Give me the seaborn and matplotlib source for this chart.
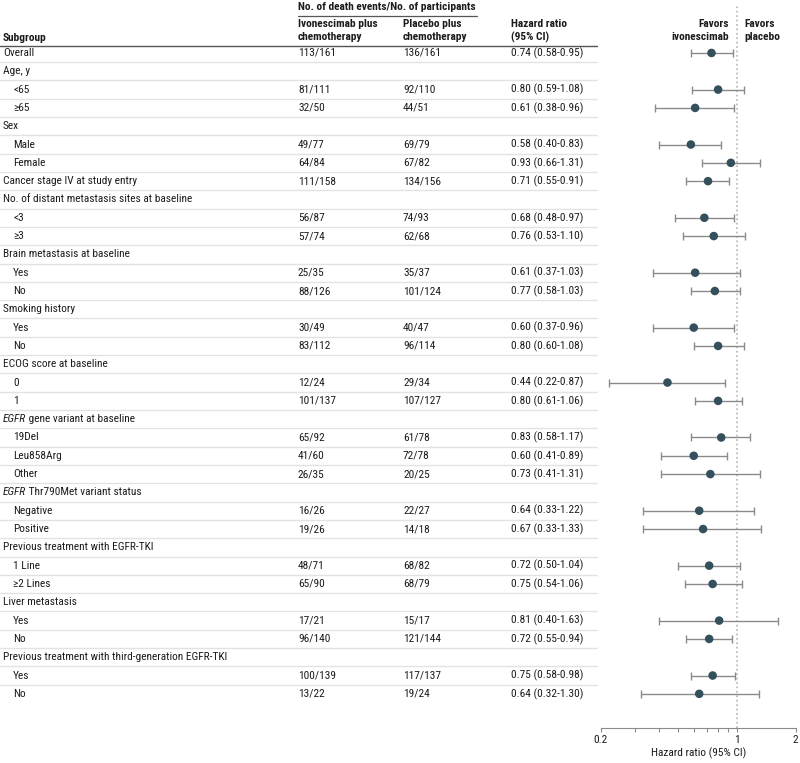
import numpy as np
import pandas as pd
import seaborn as sns
import matplotlib.pyplot as plt
import matplotlib.transforms as mtransforms
from matplotlib import font_manager as fm
from matplotlib.textpath import TextPath
from matplotlib.lines import Line2D
from matplotlib.ticker import NullFormatter

# Subgroup rows (header rows have no hazard ratio)
subgroups = [
    "Overall", "Age, y", "<65", "≥65", "Sex", "Male", "Female",
    "Cancer stage IV at study entry",
    "No. of distant metastasis sites at baseline", "<3", "≥3",
    "Brain metastasis at baseline", "Yes", "No",
    "Smoking history", "Yes", "No",
    "ECOG score at baseline", "0", "1",
    "EGFR gene variant at baseline", "19Del", "Leu858Arg", "Other",
    "EGFR Thr790Met variant status", "Negative", "Positive",
    "Previous treatment with EGFR-TKI", "1 Line", "≥2 Lines",
    "Liver metastasis", "Yes", "No",
    "Previous treatment with third-generation EGFR-TKI", "Yes", "No",
]
indented = [0, 0, 1, 1, 0, 1, 1, 0, 0, 1, 1, 0, 1, 1, 0, 1, 1, 0, 1, 1,
            0, 1, 1, 1, 0, 1, 1, 0, 1, 1, 0, 1, 1, 0, 1, 1]
ivo_events = ["113/161", "", "81/111", "32/50", "", "49/77", "64/84", "111/158",
              "", "56/87", "57/74", "", "25/35", "88/126", "", "30/49", "83/112",
              "", "12/24", "101/137", "", "65/92", "41/60", "26/35", "", "16/26",
              "19/26", "", "48/71", "65/90", "", "17/21", "96/140", "", "100/139", "13/22"]
pbo_events = ["136/161", "", "92/110", "44/51", "", "69/79", "67/82", "134/156",
              "", "74/93", "62/68", "", "35/37", "101/124", "", "40/47", "96/114",
              "", "29/34", "107/127", "", "61/78", "72/78", "20/25", "", "22/27",
              "14/18", "", "68/82", "68/79", "", "15/17", "121/144", "", "117/137", "19/24"]
nan = np.nan
hr = [0.74, nan, 0.80, 0.61, nan, 0.58, 0.93, 0.71, nan, 0.68, 0.76, nan, 0.61, 0.77,
      nan, 0.60, 0.80, nan, 0.44, 0.80, nan, 0.83, 0.60, 0.73, nan, 0.64, 0.67, nan,
      0.72, 0.75, nan, 0.81, 0.72, nan, 0.75, 0.64]
hr_lo = [0.58, nan, 0.59, 0.38, nan, 0.40, 0.66, 0.55, nan, 0.48, 0.53, nan, 0.37, 0.58,
         nan, 0.37, 0.60, nan, 0.22, 0.61, nan, 0.58, 0.41, 0.41, nan, 0.33, 0.33, nan,
         0.50, 0.54, nan, 0.40, 0.55, nan, 0.58, 0.32]
hr_hi = [0.95, nan, 1.08, 0.96, nan, 0.83, 1.31, 0.91, nan, 0.97, 1.10, nan, 1.03, 1.03,
         nan, 0.96, 1.08, nan, 0.87, 1.06, nan, 1.17, 0.89, 1.31, nan, 1.22, 1.33, nan,
         1.04, 1.06, nan, 1.63, 0.94, nan, 0.98, 1.30]

W, H = 800, 763
txt = "#1c1c1c"

sns.set_style("white")

# the reference uses a narrow sans; pick the installed one closest to it
sample = "Previous treatment with third-generation EGFR-TKI"
names = {"DejaVu Sans", "DejaVu Sans Condensed", "Liberation Sans", "Liberation Sans Narrow",
         "Noto Sans", "Noto Sans Condensed", "Noto Sans SemiCondensed", "Roboto",
         "Roboto Condensed", "Open Sans", "Open Sans Condensed", "Open Sans SemiCondensed",
         "Lato", "Inter"}


def measure(fname):
    p = fm.FontProperties(fname=fname)
    w = TextPath((0, 0), sample, size=10, prop=p).get_extents().width
    h = TextPath((0, 0), "H", size=10, prop=p).get_extents().height
    return w, h


best = None
for f in sorted(fm.fontManager.ttflist, key=lambda f: f.fname):
    if f.name not in names or f.style != "normal" or f.weight not in (400, "normal", "regular"):
        continue
    try:
        w, h = measure(f.fname)
    except Exception:
        continue
    score = abs(w / h - 26)
    if best is None or score < best[0]:
        best = (score, f.name, f.stretch)
_, fam, stretch = best
# measure the file that will really be used for drawing
w10, h10 = measure(fm.findfont(fm.FontProperties(family=fam, stretch=stretch)))
fs_w = 210 / (w10 / 10 * 100 / 72)   # size giving the reference text width
fs_h = 8 / (h10 / 10 * 100 / 72)     # size giving the reference cap height
FS = 1.04 * min(fs_h, 0.5 * (fs_w + fs_h))

plt.rcParams['font.family'] = [fam, 'DejaVu Sans']
plt.rcParams['font.stretch'] = stretch

df = pd.DataFrame({"row": np.arange(len(subgroups)), "hr": hr, "lo": hr_lo, "hi": hr_hi})
pts = df.dropna()

fig = plt.figure(figsize=(W / 100, H / 100), dpi=100)
ax = fig.add_axes([600.7 / W, 1 - 727.7 / H, 195 / W, (727.7 - 5) / H])

ax.axvline(1, color="#b5b5b5", ls=":", lw=1.2, zorder=1)
ax.errorbar(pts["hr"], pts["row"], xerr=[pts["hr"] - pts["lo"], pts["hi"] - pts["hr"]],
            fmt="none", ecolor="#8a8a8a", elinewidth=1, capsize=2.9, capthick=1, zorder=2)
sns.scatterplot(data=pts, x="hr", y="row", ax=ax, s=38, color="#34505c",
                edgecolor="none", zorder=3)

ax.set_xscale("log")
ax.set_xlim(0.2, 2)
ax.set_ylim(36.85, -2.62)
ax.set_xticks([0.2, 1, 2], ["0.2", "1", "2"])
ax.set_xticks([0.3, 0.4, 0.5, 0.6, 0.7, 0.8, 0.9], minor=True)
ax.xaxis.set_minor_formatter(NullFormatter())
ax.tick_params(axis="x", which="both", direction="out", length=3, width=0.8,
               color="#8a8a8a", labelsize=FS, labelcolor=txt, pad=2.5, bottom=True)
ax.set_yticks([])
ax.set_ylabel("")
ax.set_xlabel("Hazard ratio (95% CI)", fontsize=FS, color=txt, labelpad=1.5)
for s in ["top", "left", "right"]:
    ax.spines[s].set_visible(False)
ax.spines["bottom"].set_color("#8a8a8a")
ax.spines["bottom"].set_linewidth(0.8)
ax.patch.set_alpha(0)

# table, x in figure fraction, y in row units
tr = mtransforms.blended_transform_factory(fig.transFigure, ax.transData)
renderer = fig.canvas.get_renderer()
for i, lab in enumerate(subgroups):
    x0 = 13 if indented[i] else 3
    if lab.startswith("EGFR "):
        t = fig.text(x0 / W, i, "EGFR", transform=tr, ha="left", va="center", fontsize=FS,
                     color=txt, style="italic")
        x1 = t.get_window_extent(renderer).x1
        fig.text(x1 / W, i, lab[4:], transform=tr, ha="left", va="center", fontsize=FS, color=txt)
    else:
        fig.text(x0 / W, i, lab, transform=tr, ha="left", va="center", fontsize=FS, color=txt)
    fig.text(298 / W, i, ivo_events[i], transform=tr, ha="left", va="center", fontsize=FS, color=txt)
    fig.text(403 / W, i, pbo_events[i], transform=tr, ha="left", va="center", fontsize=FS, color=txt)
    if not np.isnan(hr[i]):
        fig.text(511 / W, i, f"{hr[i]:.2f} ({hr_lo[i]:.2f}-{hr_hi[i]:.2f})", transform=tr,
                 ha="left", va="center", fontsize=FS, color=txt)
    if i < len(subgroups) - 1:
        fig.add_artist(Line2D([0, 597 / W], [i + 0.5, i + 0.5], transform=tr,
                              color="#e2e2e2", lw=1))


# header, one text per line, placed in pixels from the top
def head(xp, yp, s, ha="left"):
    fig.text(xp / W, 1 - yp / H, s, ha=ha, va="center", fontsize=FS, fontweight="bold", color=txt)


head(298, 7, "No. of death events/No. of participants")
fig.add_artist(Line2D([298 / W, 477 / W], [1 - 16 / H, 1 - 16 / H], color="#555555", lw=0.9))
head(3, 38, "Subgroup")
head(298, 24, "Ivonescimab plus")
head(298, 37.5, "chemotherapy")
head(403, 24, "Placebo plus")
head(403, 37.5, "chemotherapy")
head(511, 24, "Hazard ratio")
head(511, 37.5, "(95% CI)")
head(729, 24, "Favors", ha="right")
head(729, 37.5, "ivonescimab", ha="right")
head(744, 24, "Favors")
head(744, 37.5, "placebo")
fig.add_artist(Line2D([0, 597 / W], [1 - 45.5 / H, 1 - 45.5 / H], color="#555555", lw=1))

fig.savefig("out.png", dpi=100)
